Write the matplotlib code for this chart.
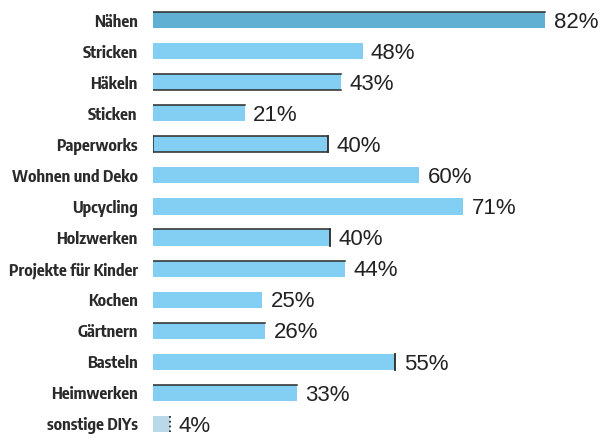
import matplotlib.pyplot as plt
from matplotlib import font_manager

# categories and values as printed in the chart
categories = ['Nähen', 'Stricken', 'Häkeln', 'Sticken', 'Paperworks', 'Wohnen und Deko',
              'Upcycling', 'Holzwerken', 'Projekte für Kinder', 'Kochen', 'Gärtnern',
              'Basteln', 'Heimwerken', 'sonstige DIYs']
percent_labels = ['82%', '48%', '43%', '21%', '40%', '60%', '71%', '40%', '44%',
                  '25%', '26%', '55%', '33%', '4%']
# bar lengths as drawn in the picture (the first bar is drawn longer than its label)
bar_lengths = [89.8, 48, 43, 21, 40, 61, 71, 40.5, 44, 25, 25.7, 55.5, 33, 4]

# which edges carry the dark line in the original
edges = ['t', '', 'tb', 't', 'tbrl', '', '', 'tr', 't', '', 't', 'r', 't', 'r']

# look for a narrow/condensed face, otherwise fall back to Roboto
label_font = None
for f in font_manager.fontManager.ttflist:
    if ('Condensed' in f.name or 'Narrow' in f.name) and 'Sans' in f.name:
        label_font = f.name
        break
if label_font is None:
    label_font = 'Roboto'

fig = plt.figure(figsize=(6, 4.38), dpi=100)
ax = fig.add_axes([0.255, 0.01, 0.728, 0.98])

colors = ['#5fb0d2'] + ['#83cff3'] * 12 + ['#b9d8e8']
h = 0.52
y = list(range(len(categories)))
ax.barh(y, bar_lengths, height=h, color=colors, edgecolor='none')

# thin dark edge lines
for i, (v, e) in enumerate(zip(bar_lengths, edges)):
    top, bot = i - h / 2, i + h / 2
    if 't' in e:
        ax.plot([0, v], [top, top], color='#2a2a2a', lw=1.1)
    if 'b' in e:
        ax.plot([0, v], [bot, bot], color='#2a2a2a', lw=1.1)
    if 'r' in e:
        ax.plot([v, v], [top, bot], color='#2a2a2a', lw=1.3,
                ls=':' if i == len(categories) - 1 else '-')
    if 'l' in e:
        ax.plot([0, 0], [top, bot], color='#2a2a2a', lw=1.1)

for i, (v, t) in enumerate(zip(bar_lengths, percent_labels)):
    ax.text(v + 1.9, i + 0.07, t, va='center', ha='left', fontsize=16,
            family=['Liberation Sans', 'DejaVu Sans'], color='#222222')

ax.set_yticks(y)
ax.set_yticklabels(categories, fontsize=12, fontweight='bold', family=label_font,
                   color='#2a2a2a')
ax.tick_params(axis='y', length=0, pad=11)
ax.set_xticks([])
ax.set_xlim(0, 100)
ax.set_ylim(13.31, -0.503)
for s in ax.spines.values():
    s.set_visible(False)

# size the category labels so the longest one fills the space on the left
fig.canvas.draw()
r = fig.canvas.get_renderer()
widest = max(t.get_window_extent(r).width for t in ax.get_yticklabels())
size = 12 * 130 / widest
for t in ax.get_yticklabels():
    t.set_fontsize(size)

fig.savefig('out.png', dpi=100)
